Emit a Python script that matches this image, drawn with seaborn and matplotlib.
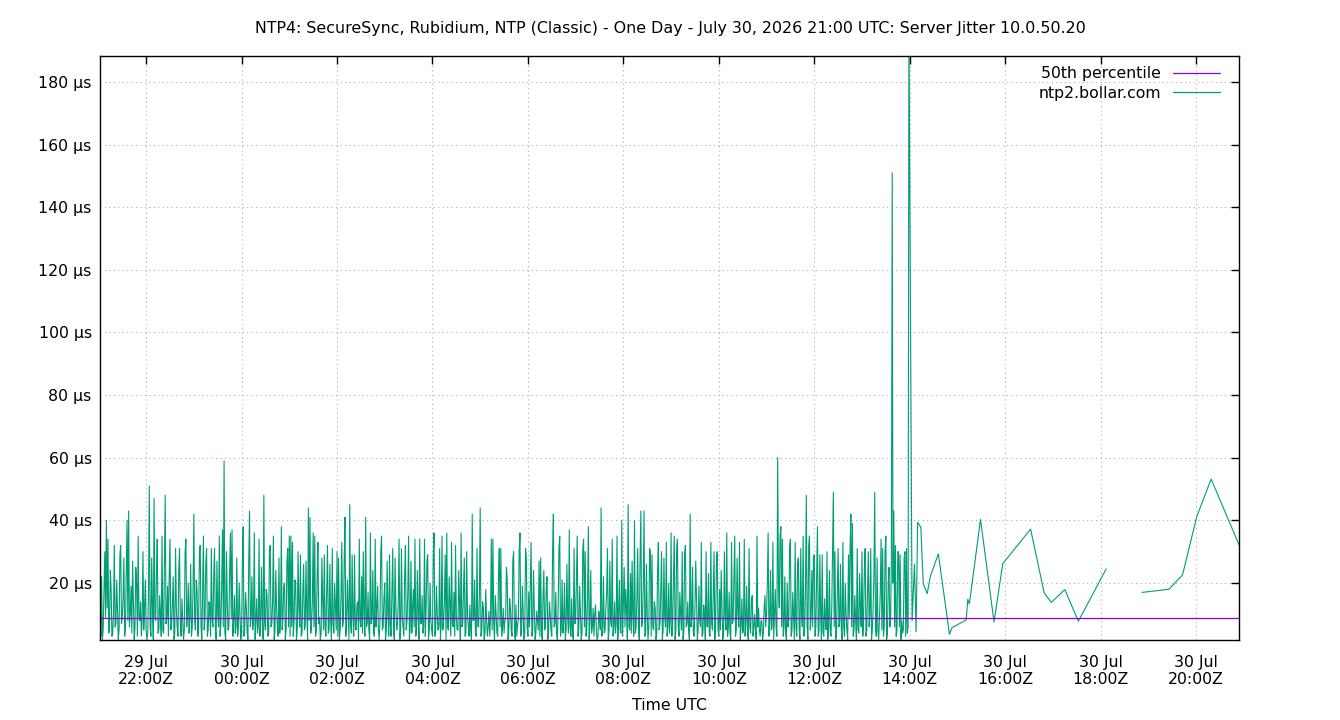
import pandas as pd
import seaborn as sns
import matplotlib.pyplot as plt
import matplotlib.dates as mdates
from matplotlib.lines import Line2D

green = "#009e73"
purple = "#9400d3"

#####################################################################
# Server jitter (µs), one reading per minute, 29 Jul 21:02 -> 30 Jul 13:58
dense_start = "2026-07-29 21:02"
dense_jitter = [
    8, 3, 22, 2, 5, 17, 30, 9, 40, 12, 34, 4, 6, 24, 18, 3, 4, 11, 32, 6, 7, 21, 12, 2, 5, 29, 32, 7, 9, 15,
    28, 3, 6, 22, 40, 8, 43, 6, 10, 19, 4, 27, 14, 2, 6, 25, 20, 3, 35, 9, 8, 14, 3, 8, 30, 5, 12, 21, 5, 2,
    4, 18, 51, 6, 3, 28, 12, 2, 47, 9, 8, 23, 34, 4, 5, 16, 10, 3, 35, 5, 4, 26, 48, 7, 9, 19, 3, 22, 34, 5,
    7, 13, 22, 2, 4, 31, 12, 6, 3, 24, 31, 7, 3, 15, 8, 2, 5, 30, 34, 6, 10, 20, 4, 9, 26, 3, 6, 18, 42, 8,
    5, 21, 18, 3, 7, 30, 32, 6, 2, 17, 35, 5, 9, 26, 31, 3, 5, 14, 12, 3, 31, 8, 6, 22, 31, 5, 2, 27, 10, 6,
    35, 3, 7, 19, 37, 6, 59, 4, 2, 30, 14, 5, 6, 24, 36, 9, 37, 3, 8, 16, 4, 6, 28, 3, 6, 20, 10, 2, 4, 26,
    38, 3, 6, 17, 12, 4, 2, 27, 43, 6, 9, 22, 5, 8, 36, 2, 8, 15, 4, 6, 34, 3, 6, 25, 10, 2, 48, 7, 5, 18,
    16, 3, 4, 30, 32, 6, 7, 14, 35, 2, 5, 24, 12, 6, 3, 28, 4, 9, 38, 5, 9, 19, 20, 2, 5, 27, 31, 6, 35, 3,
    35, 6, 33, 3, 8, 21, 20, 2, 5, 30, 12, 6, 29, 3, 4, 17, 26, 5, 6, 27, 10, 2, 44, 8, 41, 4, 7, 14, 36, 6,
    35, 3, 5, 23, 33, 7, 9, 2, 4, 28, 14, 5, 29, 6, 3, 18, 32, 4, 5, 26, 8, 2, 31, 7, 4, 20, 12, 5, 30, 3,
    28, 2, 5, 16, 33, 6, 8, 27, 41, 3, 6, 21, 12, 2, 45, 7, 4, 29, 9, 3, 29, 6, 5, 13, 14, 2, 34, 8, 6, 22,
    4, 30, 10, 3, 41, 6, 7, 17, 5, 2, 36, 7, 9, 24, 4, 3, 34, 6, 12, 19, 5, 2, 8, 30, 35, 5, 6, 15, 20, 2,
    5, 27, 10, 3, 29, 6, 3, 18, 31, 5, 2, 28, 12, 5, 7, 14, 34, 2, 5, 31, 9, 6, 3, 22, 32, 5, 8, 17, 35, 2,
    6, 27, 4, 12, 18, 6, 34, 3, 5, 24, 10, 2, 34, 7, 7, 16, 4, 6, 34, 3, 12, 27, 29, 2, 5, 20, 8, 5, 3, 29,
    36, 3, 5, 19, 10, 5, 6, 31, 2, 7, 35, 5, 8, 14, 29, 2, 36, 6, 5, 22, 12, 3, 33, 7, 6, 17, 3, 32, 9, 5,
    5, 24, 14, 2, 36, 6, 7, 18, 28, 3, 4, 30, 10, 6, 3, 13, 5, 2, 42, 8, 8, 21, 4, 3, 31, 6, 6, 16, 44, 3,
    5, 14, 12, 2, 4, 18, 8, 3, 6, 11, 3, 9, 34, 5, 34, 7, 2, 16, 10, 4, 3, 22, 31, 6, 31, 3, 6, 12, 4, 8,
    9, 25, 21, 2, 5, 15, 12, 5, 3, 27, 30, 6, 2, 13, 3, 7, 8, 30, 36, 3, 5, 19, 10, 2, 4, 31, 28, 6, 3, 17,
    6, 20, 33, 3, 5, 24, 12, 2, 4, 11, 8, 5, 27, 3, 28, 4, 2, 16, 24, 5, 6, 18, 22, 2, 4, 14, 10, 5, 3, 30,
    42, 6, 7, 17, 4, 2, 12, 31, 35, 3, 6, 21, 4, 8, 20, 2, 5, 26, 9, 4, 37, 6, 3, 15, 4, 2, 31, 7, 8, 22,
    35, 3, 6, 19, 10, 2, 4, 31, 34, 6, 30, 3, 5, 16, 38, 2, 8, 24, 4, 6, 12, 3, 10, 13, 5, 2, 3, 11, 9, 5,
    44, 3, 6, 22, 4, 5, 12, 17, 31, 2, 5, 27, 8, 6, 34, 3, 6, 14, 4, 7, 35, 2, 10, 21, 5, 4, 40, 3, 14, 25,
    6, 18, 12, 2, 45, 6, 5, 23, 4, 27, 9, 3, 40, 4, 6, 15, 31, 5, 2, 28, 43, 6, 8, 19, 43, 3, 4, 26, 10, 2,
    6, 31, 30, 3, 29, 6, 5, 14, 12, 2, 4, 24, 33, 5, 7, 17, 30, 2, 5, 28, 9, 6, 33, 3, 6, 20, 4, 8, 36, 3,
    8, 22, 35, 2, 5, 31, 34, 6, 3, 17, 10, 5, 30, 2, 4, 29, 32, 6, 7, 14, 5, 2, 42, 6, 9, 25, 4, 3, 12, 27,
    15, 2, 5, 19, 8, 6, 33, 3, 4, 13, 10, 2, 30, 6, 6, 23, 4, 3, 33, 7, 5, 16, 30, 2, 8, 26, 30, 5, 3, 18,
    5, 24, 12, 2, 4, 30, 9, 5, 36, 3, 6, 17, 4, 2, 33, 7, 8, 21, 35, 3, 5, 28, 10, 6, 33, 2, 6, 15, 4, 5,
    34, 3, 7, 19, 5, 2, 31, 6, 4, 14, 16, 3, 6, 10, 5, 2, 35, 6, 12, 5, 3, 8, 8, 2, 4, 12, 16, 6, 10, 20,
    36, 3, 8, 24, 5, 6, 33, 2, 10, 18, 6, 3, 60, 20, 12, 35, 38, 6, 34, 3, 6, 22, 4, 2, 20, 6, 8, 31, 34, 3,
    5, 17, 9, 2, 33, 6, 3, 26, 28, 5, 2, 31, 10, 6, 35, 3, 7, 19, 48, 6, 2, 32, 35, 5, 9, 24, 6, 28, 29, 3,
    6, 21, 38, 3, 5, 29, 10, 2, 29, 4, 3, 15, 8, 5, 30, 2, 6, 24, 5, 3, 12, 30, 49, 6, 30, 2, 4, 18, 31, 6,
    8, 26, 5, 2, 33, 6, 3, 20, 10, 5, 2, 29, 9, 31, 42, 6, 39, 3, 5, 16, 8, 2, 31, 5, 4, 23, 12, 6, 30, 3,
    8, 25, 31, 3, 5, 18, 30, 6, 10, 31, 2, 5, 12, 22, 49, 6, 3, 28, 5, 2, 9, 17, 34, 5, 31, 3, 6, 30, 35, 2,
    4, 20, 25, 6, 8, 30, 151, 20, 43, 6, 32, 3, 5, 30, 30, 6, 29, 2, 8, 4, 5, 28, 30, 3, 31, 4, 6,
]

# sparse readings afterwards (gap between 18:07 and 18:52)
late_times_a = ["13:59", "14:03", "14:06", "14:08", "14:10", "14:14", "14:17", "14:22", "14:26",
                "14:36", "14:50", "14:53", "15:11", "15:13", "15:15", "15:29", "15:46", "15:57",
                "16:32", "16:49", "16:58", "17:15", "17:32", "18:07"]
late_jitter_a = [200, 8, 26, 4.4, 39.4, 37.8, 19.8, 16.6, 22.2,
                 29.3, 3.6, 5.7, 8.2, 14.8, 13.3, 40.3, 7.6, 26.2,
                 37.2, 16.9, 13.8, 17.9, 7.8, 24.5]
late_times_b = ["18:52", "19:26", "19:43", "20:01", "20:19", "20:56"]
late_jitter_b = [17.0, 18.0, 22.6, 41.3, 53.2, 31.0]

median_jitter = 8.8
x_range = ("2026-07-29 21:02", "2026-07-30 20:54")
y_ticks = [20, 40, 60, 80, 100, 120, 140, 160, 180]

#####################################################################
dense = pd.DataFrame({
    "time": pd.date_range(dense_start, periods=len(dense_jitter), freq="1min"),
    "jitter": dense_jitter, "seg": 0})
late_a = pd.DataFrame({
    "time": pd.to_datetime(["2026-07-30 " + t for t in late_times_a]),
    "jitter": late_jitter_a, "seg": 0})
late_b = pd.DataFrame({
    "time": pd.to_datetime(["2026-07-30 " + t for t in late_times_b]),
    "jitter": late_jitter_b, "seg": 1})
df = pd.concat([dense, late_a, late_b], ignore_index=True)

sns.set_theme(style="white")
plt.rcParams["font.family"] = ["DejaVu Sans"]
plt.rcParams["text.color"] = "black"
fs = 11.3

fig = plt.figure(figsize=(13.4, 7.2), dpi=100)
ax = fig.add_axes([100 / 1340, 1 - 640 / 720, 1139 / 1340, 584 / 720])

sns.lineplot(data=df, x="time", y="jitter", units="seg", estimator=None,
             sort=False, color=green, linewidth=0.8, ax=ax)
ax.axhline(median_jitter, color=purple, linewidth=0.9)

ax.set_xlim(pd.Timestamp(x_range[0]), pd.Timestamp(x_range[1]))
ax.set_ylim(1.8, 188.3)
ax.set_yticks(y_ticks)
ax.set_yticklabels([f"{v} µs" for v in y_ticks])
ax.xaxis.set_major_locator(mdates.HourLocator(byhour=range(0, 24, 2)))
ax.xaxis.set_major_formatter(mdates.DateFormatter("%d %b\n%H:%MZ"))

ax.grid(True, color="#b0b0b0", linestyle=(0, (1, 3)), linewidth=0.8)
for s in ax.spines.values():
    s.set_color("black")
    s.set_linewidth(1.0)
ax.tick_params(axis="both", direction="in", length=6, width=1, color="black",
               top=True, right=True, labelsize=fs, labelcolor="black")
ax.tick_params(axis="x", pad=10.5)
ax.tick_params(axis="y", pad=6)
ax.set_xlabel("")
ax.set_ylabel("")

handles = [Line2D([], [], color=purple, linewidth=0.9),
           Line2D([], [], color=green, linewidth=0.9)]
ax.legend(handles, ["50th percentile", "ntp2.bollar.com"], loc="upper right",
          bbox_to_anchor=(1 - 13 / 1139, 1 - 4 / 584),
          frameon=False, markerfirst=False, fontsize=fs, handlelength=3.0,
          handletextpad=0.75, labelspacing=0.3, borderaxespad=0.0)

fig.text(0.5, 1 - 29 / 720, "NTP4: SecureSync, Rubidium, NTP (Classic) - One Day - "
         "July 30, 2026 21:00 UTC: Server Jitter 10.0.50.20",
         ha="center", va="center", fontsize=11.4, color="black")
fig.text(669.5 / 1340, 1 - 706 / 720, "Time UTC", ha="center", va="center",
         fontsize=fs, color="black")

fig.savefig("out.png", dpi=100)
